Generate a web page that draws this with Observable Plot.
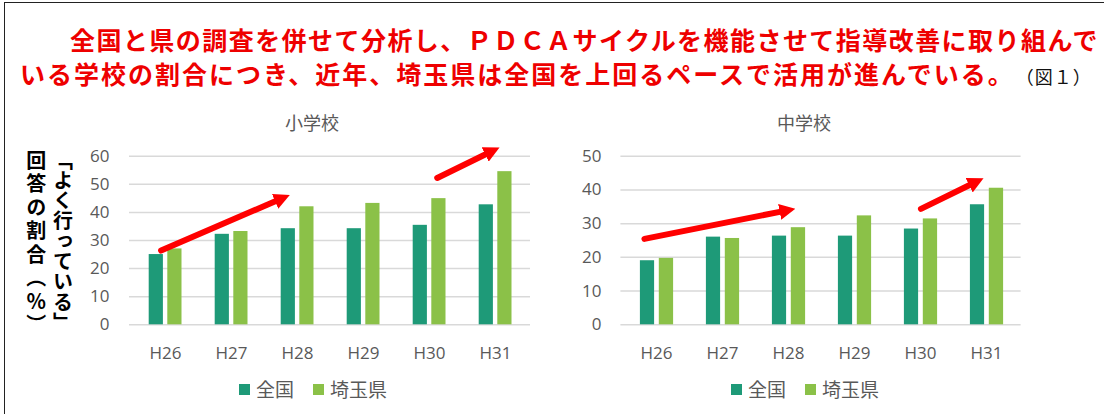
<!DOCTYPE html>
<html><head><meta charset="utf-8">
<script src="https://cdn.jsdelivr.net/npm/d3@7"></script>
<script src="https://cdn.jsdelivr.net/npm/@observablehq/plot@0.6"></script>
<style>
body{margin:0;background:#fff;width:1104px;height:414px;overflow:hidden;position:relative;font-family:'Noto Sans CJK JP',sans-serif}
.frame{position:absolute;left:4px;top:2px;width:1130px;height:440px;border:1.6px solid #222;box-sizing:border-box}
.t{position:absolute;white-space:nowrap;font-weight:bold;font-size:25px;letter-spacing:2px;color:#ee0000;line-height:34px}
.fig{font-weight:normal;font-size:18px;color:#111;letter-spacing:1px;margin-left:10px}
.ct{position:absolute;font-size:18px;color:#595959;line-height:20px;transform:translateX(-50%);white-space:nowrap}
.lg{position:absolute;display:flex;align-items:center;font-size:19px;color:#595959;line-height:22px;white-space:nowrap}
.sw{width:11px;height:11px;display:inline-block;margin-right:6px}
.ylab{position:absolute;writing-mode:vertical-rl;font-weight:bold;font-size:20px;line-height:26.8px;color:#000;white-space:nowrap}
.chart{position:absolute;top:100px}
</style></head><body>
<div class="frame"></div>
<div class="t" style="left:70px;top:22px;letter-spacing:1.45px">全国と県の調査を併せて分析し、ＰＤＣＡサイクルを機能させて指導改善に取り組んで</div>
<div class="t" style="left:20px;top:56px">いる学校の割合につき、近年、埼玉県は全国を上回るペースで活用が進んでいる。<span class="fig">（図１）</span></div>
<div class="ylab" style="left:22px;top:150px"><span style="letter-spacing:0.3px">「よく行っている」</span><br><span style="letter-spacing:3.5px">回答の割合（％）</span></div>
<div class="ct" style="left:312px;top:112px">小学校</div>
<div class="ct" style="left:804px;top:112px">中学校</div>
<div id="c1" class="chart" style="left:0px"></div>
<div id="c2" class="chart" style="left:560px"></div>
<div id="lg1" class="lg" style="left:239px;top:378px"></div>
<div id="lg2" class="lg" style="left:731px;top:378px"></div>
<script>
const years = ["H26","H27","H28","H29","H30","H31"];
const series = ["全国","埼玉県"];
const colors = ["#1e9a78","#8bc148"];
const elemNational = [25.0, 32.2, 34.2, 34.2, 35.4, 42.7];
const elemSaitama  = [27.0, 33.2, 42.0, 43.2, 44.9, 54.5];
const midNational  = [19.0, 26.0, 26.3, 26.3, 28.4, 35.6];
const midSaitama   = [19.7, 25.6, 28.8, 32.3, 31.4, 40.5];
const elemTicks = [0,10,20,30,40,50,60];
const midTicks  = [0,10,20,30,40,50];
const elemArrows = [{from:"H26", v1:27.1, to:"H28", v2:47.4}, {from:"H30", v1:50.9, to:"H31", v2:62.4}];
const midArrows  = [{from:"H26", v1:26.2, to:"H28", v2:34.0}, {from:"H30", v1:34.3, to:"H31", v2:43.9}];

function rows(vals){ return years.map((y,i)=>({year:y, value:vals[i]})); }

function addHeads(svg, id){
  const ns = "http://www.w3.org/2000/svg";
  const defs = document.createElementNS(ns,"defs");
  const m = document.createElementNS(ns,"marker");
  m.setAttribute("id", id);
  m.setAttribute("viewBox","0 0 16 16");
  m.setAttribute("refX","4"); m.setAttribute("refY","8");
  m.setAttribute("markerWidth","16"); m.setAttribute("markerHeight","16");
  m.setAttribute("markerUnits","userSpaceOnUse");
  m.setAttribute("orient","auto");
  const p = document.createElementNS(ns,"path");
  p.setAttribute("d","M0,0L16,8L0,16Z");
  p.setAttribute("fill","#ff0000");
  m.appendChild(p); defs.appendChild(m);
  svg.insertBefore(defs, svg.firstChild);
  svg.querySelectorAll('g[aria-label="arrow"] path').forEach(path => {
    const d = path.getAttribute("d");
    const n = d.match(/-?\d*\.?\d+(?:e[-+]?\d+)?/gi).map(Number);
    path.setAttribute("d", `M${n[0]},${n[1]}L${n[2]},${n[3]}`);
    path.setAttribute("marker-end", `url(#${id})`);
  });
}

function chart({nat, sai, ticks, arrows, ins, width, marginLeft, marginRight, tickPad, barIns, id}){
  const svg = Plot.plot({
    width, height: 270,
    marginLeft, marginRight, marginTop: 55.7, marginBottom: 45.7,
    style: {fontFamily: "'Open Sans', 'Noto Sans CJK JP', sans-serif", fontSize: "17px", color: "#595959", background: "transparent", overflow: "visible"},
    x: {domain: years, padding: 0, label: null, tickSize: 0, tickPadding: 22},
    y: {domain: [0, ticks[ticks.length-1]], ticks: ticks, label: null, tickSize: 0, tickPadding: tickPad},
    marks: [
      Plot.ruleY(ticks, {stroke: "#d9d9d9", strokeWidth: 1.5}),
      Plot.barY(rows(nat), {x: "year", y: "value", fill: colors[0], insetLeft: barIns[0], insetRight: barIns[1]}),
      Plot.barY(rows(sai), {x: "year", y: "value", fill: colors[1], insetLeft: barIns[2], insetRight: barIns[3]}),
      ...arrows.map((a,i) => Plot.arrow([a], {x1: "from", y1: "v1", x2: "to", y2: "v2", stroke: "#ff0000", strokeWidth: 6, headLength: 0, insetStart: ins[i][0], insetEnd: ins[i][1]}))
    ]
  });
  addHeads(svg, id);
  return svg;
}

document.getElementById("c1").appendChild(chart({
  nat: elemNational, sai: elemSaitama, ticks: elemTicks, arrows: elemArrows,
  ins: [[-4.8, 20.4], [8.6, 7.5]], width: 560, marginLeft: 129, marginRight: 30, tickPad: 20,
  barIns: [16.7, 35.1, 35.3, 16.5], id: "ah1"
}));
document.getElementById("c2").appendChild(chart({
  nat: midNational, sai: midSaitama, ticks: midTicks, arrows: midArrows,
  ins: [[-12.3, 5.0], [0.5, 15.3]], width: 544, marginLeft: 60.4, marginRight: 83.4, tickPad: 19.5,
  barIns: [16.9, 34.9, 35.8, 15.9], id: "ah2"
}));

function legend(el){
  series.forEach((s,i) => {
    const item = document.createElement("span");
    item.style.display = "flex"; item.style.alignItems = "center";
    if (i === 0) item.style.marginRight = "19px";
    const sw = document.createElement("span");
    sw.className = "sw"; sw.style.background = colors[i];
    const tx = document.createElement("span"); tx.textContent = s;
    item.appendChild(sw); item.appendChild(tx); el.appendChild(item);
  });
}
legend(document.getElementById("lg1"));
legend(document.getElementById("lg2"));
</script>
</body></html>
